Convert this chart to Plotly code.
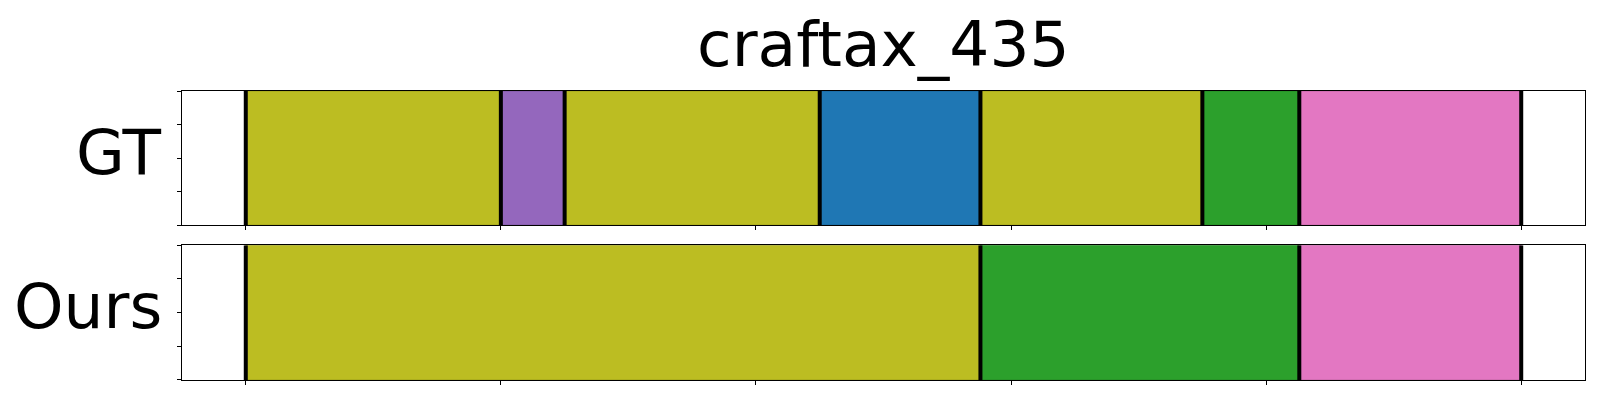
import plotly.graph_objects as go

title_text = "craftax_435"
row_labels = ["GT", "Ours"]

# segment boundaries (time steps) and segment colors per row
gt_bounds = [0, 100, 125, 225, 288, 375, 413, 500]
gt_colors = ["#bcbd22", "#9467bd", "#bcbd22", "#1f77b4", "#bcbd22", "#2ca02c", "#e377c2"]
ours_bounds = [0, 288, 413, 500]
ours_colors = ["#bcbd22", "#2ca02c", "#e377c2"]

x_ticks = [0, 100, 200, 300, 400, 500]
y_ticks = [0, 0.25, 0.5, 0.75, 1.0]

rows = [(gt_bounds, gt_colors), (ours_bounds, ours_colors)]
axes = [("x", "y"), ("x2", "y2")]

def darker(hexc, f=0.85):
    h = hexc.lstrip("#")
    r, g, b = (int(h[i:i + 2], 16) for i in (0, 2, 4))
    return "rgb(%d,%d,%d)" % (r * f, g * f, b * f)

fig = go.Figure()
for (bounds, colors), (xa, ya) in zip(rows, axes):
    starts = bounds[:-1]
    lengths = [b - a for a, b in zip(bounds[:-1], bounds[1:])]
    for s, L, c in zip(starts, lengths, colors):
        fig.add_trace(go.Bar(
            x=[L], base=[s], y=[0.5], width=[1.0], orientation="h",
            marker=dict(color=c, line=dict(color=darker(c), width=1)),
            xaxis=xa, yaxis=ya, showlegend=False, hoverinfo="skip"))
    lx, ly = [], []
    for b in bounds:
        lx += [b, b, None]
        ly += [0, 1, None]
    fig.add_trace(go.Scatter(x=lx, y=ly, mode="lines",
                             line=dict(color="black", width=4),
                             xaxis=xa, yaxis=ya, showlegend=False, hoverinfo="skip"))

xcommon = dict(range=[-25, 525], tickvals=x_ticks, showticklabels=False,
               ticks="outside", ticklen=4, tickwidth=1, tickcolor="black",
               showline=True, linecolor="black", linewidth=1, mirror=True,
               showgrid=False, zeroline=False)
ycommon = dict(range=[0, 1], tickvals=y_ticks, showticklabels=False,
               ticks="outside", ticklen=4, tickwidth=1, tickcolor="black",
               showline=True, linecolor="black", linewidth=1, mirror=True,
               showgrid=False, zeroline=False)

# page body has an 8px margin: size the figure to fit inside the window
fig.update_layout(
    width=1584, height=384,
    margin=dict(l=174, r=7, t=83, b=12),
    paper_bgcolor="white", plot_bgcolor="white",
    barmode="overlay",
    font=dict(family="DejaVu Sans", color="black"),
    xaxis=dict(**xcommon, domain=[0, 1], anchor="y"),
    yaxis=dict(**ycommon, domain=[0.536, 1], anchor="x"),
    xaxis2=dict(**xcommon, domain=[0, 1], anchor="y2"),
    yaxis2=dict(**ycommon, domain=[0, 0.466], anchor="x2"),
)

fig.add_annotation(text=title_text, xref="paper", yref="paper", x=0.5, y=1.0,
                   xanchor="center", yanchor="bottom", yshift=8, showarrow=False,
                   font=dict(size=63, family="DejaVu Sans", color="black"))
for lab, ya in zip(row_labels, ["y domain", "y2 domain"]):
    fig.add_annotation(text=lab, xref="paper", yref=ya, x=0, y=0.5,
                       xanchor="right", yanchor="middle", xshift=-18, yshift=6,
                       showarrow=False,
                       font=dict(size=63, family="DejaVu Sans", color="black"))

fig.write_html("out.html")
